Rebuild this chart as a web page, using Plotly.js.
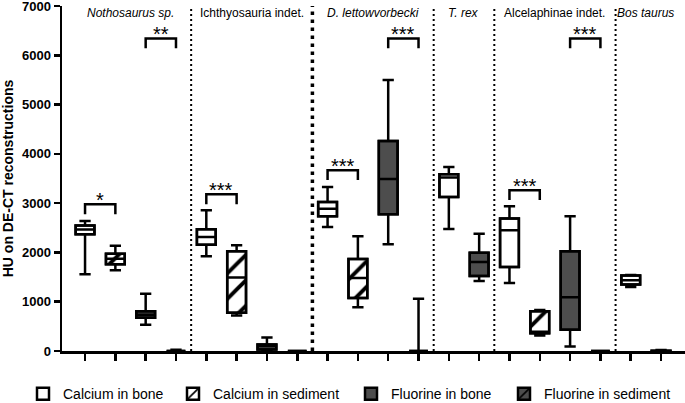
<!DOCTYPE html>
<html><head><meta charset="utf-8">
<script src="https://cdn.plot.ly/plotly-3.0.1.min.js"></script>
<style>html,body{margin:0;padding:0;background:#fff}#chart{width:685px;height:403px}</style>
</head><body><div id="chart"></div>
<script>
// ---- data ----
const groups = ['Nothosaurus sp.', 'Ichthyosauria indet.', 'D. lettowvorbecki', 'T. rex', 'Alcelaphinae indet.', 'Bos taurus'];
const groupItalic = [true, false, true, true, false, true];
const seriesKeys = ['caBone', 'caSed', 'fBone', 'fSed'];
const seriesNames = ['Calcium in bone', 'Calcium in sediment', 'Fluorine in bone', 'Fluorine in sediment'];

// Calcium in bone (per group)
const caBoneMin = [1555, 1920, 2516, 2475, 1378, 1297];
const caBoneQ1  = [2367, 2158, 2733, 3126, 1703, 1351];
const caBoneMed = [2463, 2313, 2885, 3519, 2449, 1433];
const caBoneQ3  = [2544, 2469, 3024, 3587, 2686, 1534];
const caBoneMax = [2637, 2855, 3329, 3735, 2936, 1540];
// Calcium in sediment
const caSedMin = [1636, 721, 890, null, 316, null];
const caSedQ1  = [1758, 776, 1073, null, 362, null];
const caSedMed = [1873, 1490, 1480, null, 390, null];
const caSedQ3  = [1975, 2022, 1866, null, 809, null];
const caSedMax = [2138, 2144, 2327, null, 830, null];
// Fluorine in bone
const fBoneMin = [532, 0, 2164, 1418, 91, 0];
const fBoneQ1  = [675, 30, 2774, 1520, 431, 0];
const fBoneMed = [736, 100, 3491, 1805, 1093, 0];
const fBoneQ3  = [809, 132, 4263, 1995, 2022, 5];
const fBoneMax = [1162, 274, 5497, 2381, 2733, 20];
// Fluorine in sediment
const fSedMin = [0, 0, 0, null, 0, null];
const fSedQ1  = [0, 0, 0, null, 0, null];
const fSedMed = [0, 0, 0, null, 0, null];
const fSedQ3  = [0, 0, 0, null, 0, null];
const fSedMax = [25, 0, 1061, null, 0, null];

// significance comparisons: group, series pair, bracket level (HU), label
const sigGroup  = [0, 0, 1, 2, 2, 4, 4];
const sigFrom   = ['caBone', 'fBone', 'caBone', 'caBone', 'fBone', 'caBone', 'fBone'];
const sigTo     = ['caSed', 'fSed', 'caSed', 'caSed', 'fSed', 'caSed', 'fSed'];
const sigLevel  = [2977, 6342, 3180, 3668, 6342, 3262, 6342];
const sigLabel  = ['*', '**', '***', '***', '***', '***', '***'];

// ---- assemble ----
const S = {
  caBone: {min: caBoneMin, q1: caBoneQ1, med: caBoneMed, q3: caBoneQ3, max: caBoneMax},
  caSed:  {min: caSedMin,  q1: caSedQ1,  med: caSedMed,  q3: caSedQ3,  max: caSedMax},
  fBone:  {min: fBoneMin,  q1: fBoneQ1,  med: fBoneMed,  q3: fBoneQ3,  max: fBoneMax},
  fSed:   {min: fSedMin,   q1: fSedQ1,   med: fSedMed,   q3: fSedQ3,   max: fSedMax}
};
const styles = {
  caBone: {color: '#ffffff', pattern: ''},
  caSed:  {color: '#ffffff', pattern: '/'},
  fBone:  {color: '#4d4d4d', pattern: ''},
  fSed:   {color: '#4d4d4d', pattern: '/'}
};

const pos = {caBone: [], caSed: [], fBone: [], fSed: []};
const gStart = [], gEnd = [];
let slot = 0;
groups.forEach((g, gi) => {
  gStart.push(slot);
  seriesKeys.forEach(k => {
    if (S[k].min[gi] !== null) { pos[k][gi] = slot++; } else { pos[k][gi] = null; }
  });
  gEnd.push(slot - 1);
});
const nSlots = slot;

const FONT = 'Liberation Sans, Arial, Helvetica, sans-serif';
const BW = 0.62;
const legendIds = ['legend', 'legend2', 'legend3', 'legend4'];
const legendX = [23, 173, 351, 504];   // px, left edge of each legend entry
const traces = [];
// bars: box bodies with fill / hatch, also provide legend
seriesKeys.forEach((k, si) => {
  const xs = [], ys = [], bs = [];
  groups.forEach((g, gi) => {
    if (pos[k][gi] === null) return;
    xs.push(pos[k][gi]); bs.push(S[k].q1[gi]); ys.push(S[k].q3[gi] - S[k].q1[gi]);
  });
  const marker = {color: styles[k].color, line: {color: '#000', width: 2.5}};
  if (styles[k].pattern) marker.pattern = {shape: styles[k].pattern, fgcolor: '#000', bgcolor: styles[k].color,
    fillmode: 'replace', size: 18, solidity: 0.22};
  traces.push({type: 'bar', x: xs, y: ys, base: bs, width: BW, marker: marker,
    name: seriesNames[si], showlegend: true, legend: legendIds[si], hoverinfo: 'skip'});
});
// boxes: outline, median, whiskers
seriesKeys.forEach((k, si) => {
  const xs = [], q1 = [], med = [], q3 = [], lo = [], hi = [];
  groups.forEach((g, gi) => {
    if (pos[k][gi] === null) return;
    xs.push(pos[k][gi]); q1.push(S[k].q1[gi]); med.push(S[k].med[gi]); q3.push(S[k].q3[gi]);
    lo.push(S[k].min[gi]); hi.push(S[k].max[gi]);
  });
  traces.push({type: 'box', x: xs, q1: q1, median: med, q3: q3, lowerfence: lo, upperfence: hi,
    width: BW, whiskerwidth: 0.6, boxpoints: false, fillcolor: 'rgba(0,0,0,0)',
    line: {color: '#000', width: 2.5}, showlegend: false, name: seriesNames[si], hoverinfo: 'skip'});
});

const shapes = [];
const annotations = [];
// group dividers
const dividerWidth = [2, 3.5, 2, 2, 2];
for (let gi = 0; gi < groups.length - 1; gi++) {
  const xd = (gEnd[gi] + gStart[gi + 1]) / 2;
  const w = dividerWidth[gi];
  shapes.push({type: 'line', xref: 'x', yref: 'paper', x0: xd, x1: xd, y0: 0, y1: 1.0,
    line: {color: '#000', width: w, dash: w > 3 ? '3.5px,4.5px' : '2px,3px'}, layer: 'above'});
}
// group labels
groups.forEach((g, gi) => {
  annotations.push({xref: 'x', yref: 'paper', x: (gStart[gi] + gEnd[gi]) / 2, y: 0.98,
    text: groupItalic[gi] ? '<i>' + g + '</i>' : g, showarrow: false,
    font: {family: FONT, size: 12, color: '#000'}, xanchor: 'center', yanchor: 'middle'});
});
// significance brackets
const LEG = 200;
sigGroup.forEach((gi, i) => {
  const xa = pos[sigFrom[i]][gi], xb = pos[sigTo[i]][gi], yv = sigLevel[i];
  shapes.push({type: 'path', xref: 'x', yref: 'y',
    path: `M${xa},${yv - LEG} L${xa},${yv} L${xb},${yv} L${xb},${yv - LEG}`,
    line: {color: '#000', width: 2.5}});
  annotations.push({xref: 'x', yref: 'y', x: (xa + xb) / 2, y: yv, yshift: 4, text: sigLabel[i],
    showarrow: false, font: {family: FONT, size: 20, color: '#000'}, xanchor: 'center', yanchor: 'middle'});
});

const tickvals = [];
for (let i = 0; i < nSlots; i++) tickvals.push(i);

const layout = {
  width: 685, height: 403,
  margin: {l: 62, r: 0, t: 6, b: 52, pad: 0},
  paper_bgcolor: '#fff', plot_bgcolor: '#fff',
  barmode: 'overlay', boxmode: 'overlay',
  font: {family: FONT, color: '#000'},
  xaxis: {range: [-0.76, 19.79], tickvals: tickvals, showticklabels: false,
    ticks: 'outside', ticklen: 7, tickwidth: 2.5, tickcolor: '#000',
    showline: true, linewidth: 2.5, linecolor: '#000', showgrid: false, zeroline: false, fixedrange: true},
  yaxis: {range: [0, 7000], tickvals: [0, 1000, 2000, 3000, 4000, 5000, 6000, 7000],
    ticks: 'outside', ticklen: 6, tickwidth: 2.5, tickcolor: '#000', ticklabeloverflow: 'allow',
    tickfont: {family: FONT, size: 13, color: '#000', weight: 'bold'},
    showline: true, linewidth: 2.5, linecolor: '#000', showgrid: false, zeroline: false,
    title: {text: 'HU on DE-CT reconstructions', font: {family: FONT, size: 14, color: '#000', weight: 'bold'}, standoff: 8}},
  shapes: shapes,
  annotations: annotations,
  showlegend: true
};
legendIds.forEach((id, i) => {
  layout[id] = {orientation: 'h', xref: 'container', yref: 'container', x: legendX[i] / 685, y: 0.022,
    xanchor: 'left', yanchor: 'middle', font: {family: FONT, size: 14, color: '#000'},
    itemclick: false, bgcolor: 'rgba(0,0,0,0)'};
});

Plotly.newPlot('chart', traces, layout, {staticPlot: true, displayModeBar: false});
</script>
</body></html>
